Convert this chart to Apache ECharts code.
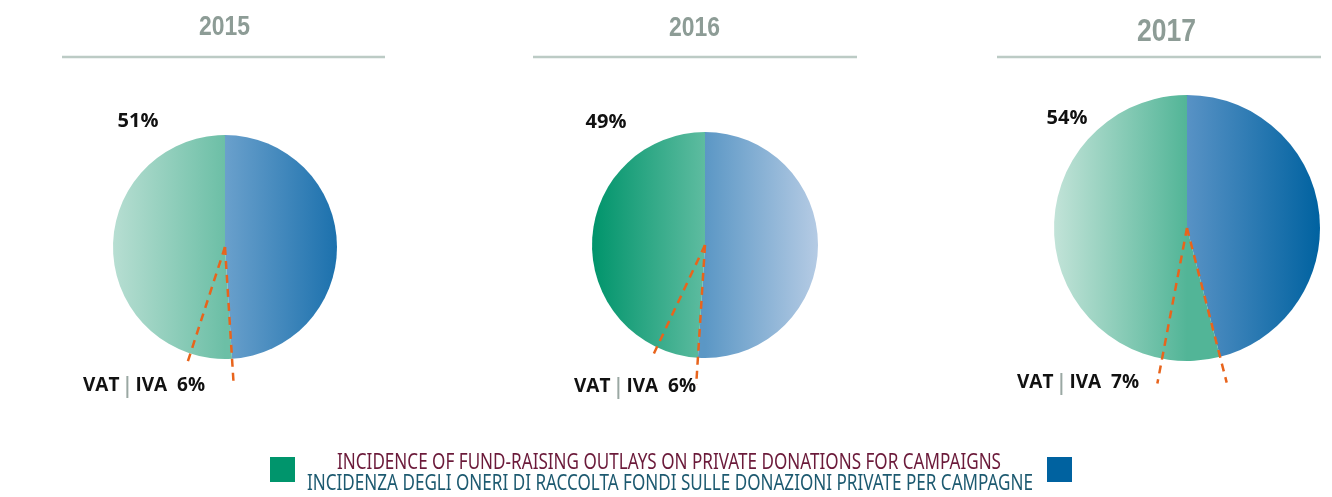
<!DOCTYPE html>
<html><head><meta charset="utf-8">
<script src="https://cdn.jsdelivr.net/npm/echarts@6/dist/echarts.min.js"></script>
<style>html,body{margin:0;padding:0;background:#fff}#c{width:1332px;height:497px}</style>
</head><body><div id="c"></div>
<script>
// ---- data ----
const years = ['2015', '2016', '2017'];
const greenShare = [51, 49, 54];   // fund-raising outlays (green)
const blueShare = [49, 51, 46];    // remainder (blue)
const vatShare = [6, 6, 7];        // VAT | IVA wedge
const vatLabel = 'VAT';
const ivaLabel = 'IVA';
const legendEN = 'INCIDENCE OF FUND-RAISING OUTLAYS ON PRIVATE DONATIONS FOR CAMPAIGNS';
const legendIT = 'INCIDENZA DEGLI ONERI DI RACCOLTA FONDI SULLE DONAZIONI PRIVATE PER CAMPAGNE';

// ---- layout & style ----
const layout = [
  {cx: 225, cy: 247, r: 112, tx: 224.5, ty: 28, tsize: 27, tw: 51, rule: [62, 385], pct: [138, 121], vat: [144, 386], ext: [1.23, 1.11]},
  {cx: 705, cy: 245, r: 113, tx: 694.5, ty: 29, tsize: 27, tw: 51, rule: [533, 857], pct: [606, 122], vat: [635, 387], ext: [1.24, 1.10]},
  {cx: 1187, cy: 228, r: 133, tx: 1166.5, ty: 32, tsize: 32, tw: 59, rule: [997, 1321], pct: [1067, 118], vat: [1078, 383], ext: [1.20, 1.19]}
];
const grads = [
  {g: ['#b7ded2', '#6cbfa6'], b: ['#6aa0cc', '#1c71ad']},
  {g: ['#00946b', '#5ebca0'], b: ['#5b97c5', '#b5cbe4']},
  {g: ['#c2e3d8', '#52b597'], b: ['#5892c5', '#0062a0']}
];
const titleFont = '"Liberation Sans", Arial, sans-serif';
const legendFont = '"Noto Sans", "Open Sans", sans-serif';
const bold = '"Open Sans", "Noto Sans", sans-serif';

const mctx = document.createElement('canvas').getContext('2d');
function fitScale(text, font, target) {
  mctx.font = font;
  return target / mctx.measureText(text).width;
}

function lin(x1, x2, c1, c2) {
  return {type: 'linear', x: x1, y: 0, x2: x2, y2: 0, global: true,
    colorStops: [{offset: 0, color: c1}, {offset: 1, color: c2}]};
}

const series = [], polar = [], angleAxis = [], radiusAxis = [], graphic = [];
years.forEach((yr, i) => {
  const L = layout[i], G = grads[i];
  series.push({
    type: 'pie', center: [L.cx, L.cy], radius: [0, L.r], startAngle: 90, clockwise: true,
    silent: true, label: {show: false}, labelLine: {show: false}, emphasis: {disabled: true},
    animation: false,
    data: [
      {name: 'blue', value: blueShare[i], itemStyle: {color: lin(L.cx, L.cx + L.r, G.b[0], G.b[1])}},
      {name: 'green', value: greenShare[i], itemStyle: {color: lin(L.cx - L.r, L.cx, G.g[0], G.g[1])}}
    ]
  });
  const maxR = 1.3;
  polar.push({center: [L.cx, L.cy], radius: L.r * maxR});
  angleAxis.push({polarIndex: i, type: 'value', min: 0, max: 100, startAngle: 90, clockwise: true,
    axisLine: {show: false}, axisTick: {show: false}, axisLabel: {show: false}, splitLine: {show: false}});
  radiusAxis.push({polarIndex: i, type: 'value', min: 0, max: maxR,
    axisLine: {show: false}, axisTick: {show: false}, axisLabel: {show: false}, splitLine: {show: false}});
  const a1 = blueShare[i], a2 = blueShare[i] + vatShare[i];
  [[a1, L.ext[0]], [a2, L.ext[1]]].forEach(([ang, e]) => {
    series.push({
      type: 'line', coordinateSystem: 'polar', polarIndex: i, symbol: 'none', silent: true, animation: false,
      lineStyle: {color: '#e8641c', width: 2.5, type: [8, 6]},
      data: [[0, ang], [e, ang]]
    });
  });
  // title + rule
  const tf = 'bold ' + L.tsize + 'px ' + titleFont;
  graphic.push({type: 'text', x: L.tx, y: L.ty, scaleX: fitScale(yr, tf, L.tw), style: {text: yr, fill: '#8d9c96',
    font: tf, align: 'center', verticalAlign: 'middle'}});
  graphic.push({type: 'line', shape: {x1: L.rule[0], y1: 57, x2: L.rule[1], y2: 57},
    style: {stroke: '#bccbc5', lineWidth: 2.5}});
  // percentage
  graphic.push({type: 'text', x: L.pct[0], y: L.pct[1], style: {text: greenShare[i] + '%', fill: '#111',
    font: 'bold 20px ' + bold, align: 'center', verticalAlign: 'middle'}});
  // VAT label
  graphic.push({type: 'text', x: L.vat[0], y: L.vat[1], style: {
    text: '{a|' + vatLabel + ' }{s||}{a| ' + ivaLabel + '  ' + vatShare[i] + '%}',
    align: 'center', verticalAlign: 'middle',
    rich: {a: {font: 'bold 19px ' + bold, fill: '#111'},
           s: {font: '24px ' + titleFont, fill: '#9aa8a3'}}}});
});

// legend
graphic.push({type: 'rect', shape: {x: 270, y: 457, width: 25, height: 25}, style: {fill: '#00956c'}});
graphic.push({type: 'rect', shape: {x: 1047, y: 457, width: 25, height: 25}, style: {fill: '#0062a0'}});
const lf = '21px ' + legendFont;
graphic.push({type: 'text', x: 669, y: 463, scaleX: fitScale(legendEN, lf, 664), style: {text: legendEN, fill: '#6b1a3a',
  font: lf, align: 'center', verticalAlign: 'middle'}});
graphic.push({type: 'text', x: 670, y: 484, scaleX: fitScale(legendIT, lf, 726), style: {text: legendIT, fill: '#1d5a70',
  font: lf, align: 'center', verticalAlign: 'middle'}});

const chart = echarts.init(document.getElementById('c'));
chart.setOption({animation: false, polar, angleAxis, radiusAxis, series, graphic});
</script></body></html>
